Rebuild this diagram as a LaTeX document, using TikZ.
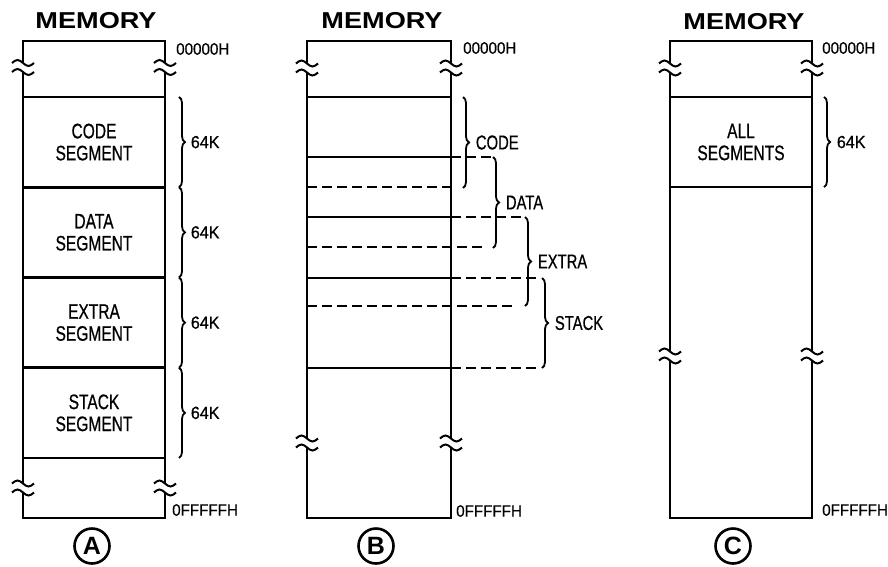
\documentclass[tikz,border=0pt]{standalone}
\usepackage{fontspec}
\setmainfont{Liberation Sans}
\newfontfamily\segfont[FakeStretch=0.74,FakeBold=0.6]{Liberation Sans}
\newfontfamily\hexfont[FakeStretch=0.92,FakeBold=0.6]{Liberation Sans}
\newfontfamily\memfont[FakeStretch=1.18]{Liberation Sans}
\usetikzlibrary{decorations.pathreplacing,positioning}

\begin{document}
\begin{tikzpicture}[
  x=1pt, y=-1pt,
  box/.style={line width=2.8pt},
  seg/.style={
    draw,
    line width=2.6pt,
    outer sep=0pt,
    inner sep=0pt,
    minimum width=142pt,
    minimum height=90.25pt,
    align=center,
    font={\segfont\fontsize{21}{22}\selectfont}
  },
  divider/.style={line width=2.4pt},
  split/.style={line width=2.4pt, dash pattern=on 10pt off 5pt},
  curly/.style={decorate, decoration={brace, amplitude=6pt}, line width=1.8pt},
  title/.style={font={\memfont\bfseries\fontsize{23}{23}\selectfont}},
  addr/.style={anchor=west, inner sep=0pt, font={\hexfont\fontsize{16.5}{16.5}\selectfont}},
  size/.style={inner sep=0pt, font={\hexfont\fontsize{17.5}{17.5}\selectfont}},
  tag/.style={inner sep=0pt, font={\segfont\fontsize{20}{20}\selectfont}},
  badge/.style={draw, circle, line width=2.6pt, minimum size=35pt, inner sep=0pt,
    font={\bfseries\fontsize{25}{25}\selectfont}},
  brkmark/.pic={
    \fill[white] (-3.5,-4.5) rectangle (3.5,4.5);
    \draw[line width=2pt] (-11,-4.5) sin (-5.5,-7.5) cos (0,-4.5) sin (5.5,-1.5) cos (11,-4.5);
    \draw[line width=2pt] (-11,4.5) sin (-5.5,1.5) cos (0,4.5) sin (5.5,7.5) cos (11,4.5);
  }
]
\useasboundingbox (0,0) rectangle (888,566);

% Panel A: four separate segments
\node[title] (memA) at (96,21) {MEMORY};
\draw[box] (23,41) rectangle (165,518);
\foreach \nm/\txt [count=\i from 0] in {code/CODE, data/DATA, extra/EXTRA, stack/STACK} {
  \node[seg] (\nm) at (94,142.1+90.25*\i) {\txt\\SEGMENT};
  \draw[curly] ([xshift=14pt]\nm.north east) -- node[size, right=11pt] (size\nm) {64K} ([xshift=14pt]\nm.south east);
}
\node[addr] (topA) at (176,49) {00000H};
\node[addr] (botA) at (172,510) {0FFFFFH};
\node[badge] (badgeA) at (92,546) {A};
\foreach \x/\y in {23/67.5, 165/67.5, 23/488, 165/488}
  \pic at (\x,\y) {brkmark};

% Panel B: overlapping segments
\node[title] (memB) at (382,21) {MEMORY};
\draw[box] (307,41) rectangle (451,518);
\foreach \y in {97,157,217,278,368}
  \draw[divider] (307,\y) -- (451,\y);
\foreach \y/\e in {187/451, 247/483, 306/512}
  \draw[split] (307,\y) -- (\e,\y);
\foreach \y/\e in {157/492, 217/525, 278/537, 368/538}
  \draw[split] (451,\y) -- (\e,\y);
\foreach \nm/\txt/\x/\a/\b in {code/CODE/463/97/188, data/DATA/493/157/248, extra/EXTRA/525/217/306, stack/STACK/542/278/368}
  \draw[curly] (\x,\a) -- node[tag, right=12pt] (tag\nm) {\txt} (\x,\b);
\node[addr] (topB) at (463,48) {00000H};
\node[addr] (botB) at (456,511) {0FFFFFH};
\node[badge] (badgeB) at (376,546) {B};
\foreach \x/\y in {307/68, 451/68, 307/443, 451/443}
  \pic at (\x,\y) {brkmark};

% Panel C: one shared segment
\node[title] (memC) at (744,22) {MEMORY};
\draw[box] (670,41) rectangle (812,518);
\node[seg] (all) at (741,142) {ALL\\SEGMENTS};
\draw[curly] ([xshift=12pt]all.north east) -- node[size, right=12pt] (sizeall) {64K} ([xshift=12pt]all.south east);
\node[addr] (topC) at (822,48) {00000H};
\node[addr] (botC) at (822,510) {0FFFFFH};
\node[badge] (badgeC) at (733,546) {C};
\foreach \x/\y in {670/68, 812/68, 670/356, 812/356}
  \pic at (\x,\y) {brkmark};

\end{tikzpicture}
\end{document}
